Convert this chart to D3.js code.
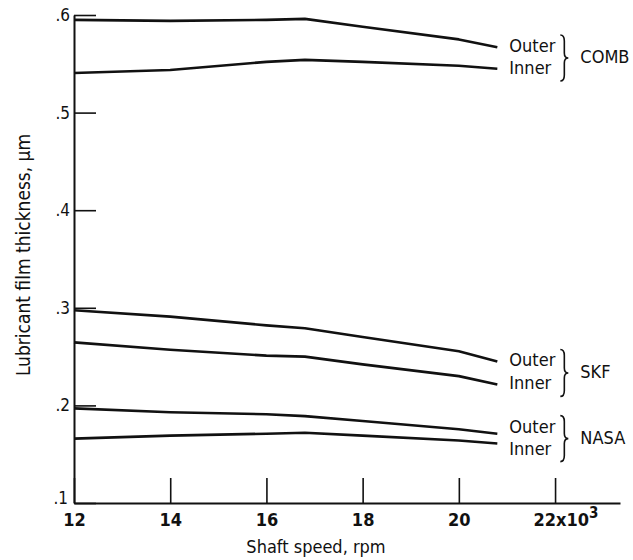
<!DOCTYPE html>
<html>
<head>
<meta charset="utf-8">
<script src="https://cdn.jsdelivr.net/npm/d3@7"></script>
<style>
  body { margin: 0; background: #fff; }
  svg text { font-family: "Liberation Sans Narrow", "DejaVu Sans Condensed", "Liberation Sans", sans-serif; fill: #111; }
</style>
</head>
<body>
<div id="chart"></div>
<script>
// film thickness vs shaft speed, three bearing designs, inner/outer race
const speeds = [12, 14, 16, 16.8, 18, 20, 20.8];          // x10^3 rpm
const combOuter = [0.595, 0.594, 0.595, 0.596, 0.588, 0.575, 0.567];
const combInner = [0.5405, 0.5436, 0.552, 0.554, 0.552, 0.548, 0.545];
const skfOuter  = [0.2975, 0.291, 0.282, 0.279, 0.270, 0.2555, 0.245];
const skfInner  = [0.2646, 0.257, 0.251, 0.250, 0.242, 0.230, 0.2215];
const nasaOuter = [0.197, 0.193, 0.191, 0.189, 0.184, 0.1755, 0.171];
const nasaInner = [0.166, 0.169, 0.171, 0.172, 0.169, 0.164, 0.161];

const groups = ['COMB', 'SKF', 'NASA'];
const raceLabels = ['Outer', 'Inner'];
const xTicks = [12, 14, 16, 18, 20, 22];
const yTicks = [0.1, 0.2, 0.3, 0.4, 0.5, 0.6];

const series = [
  { group: 'COMB', outer: combOuter, inner: combInner },
  { group: 'SKF', outer: skfOuter, inner: skfInner },
  { group: 'NASA', outer: nasaOuter, inner: nasaInner },
];

const width = 633, height = 560;
const svg = d3.select('#chart').append('svg').attr('width', width).attr('height', height);

const x = d3.scaleLinear().domain([12, 23.35]).range([74, 620]);
const y = d3.scaleLinear().domain([0.1, 0.6]).range([503, 15]);

// x axis, ticks pointing up into the plot
const xAxis = svg.append('g').attr('transform', `translate(0,${y(0.1)})`)
  .call(d3.axisBottom(x).tickValues(xTicks).tickSizeInner(-25).tickSizeOuter(0).tickPadding(10)
    .tickFormat(d => d));
xAxis.select('.domain').attr('stroke', '#111').attr('stroke-width', 2);
xAxis.selectAll('.tick line').attr('stroke', '#111').attr('stroke-width', 1.6);
xAxis.selectAll('.tick text').attr('font-size', 18).attr('font-weight', 'bold').attr('fill', '#111');
// last label carries the multiplier: 22x10^3
xAxis.selectAll('.tick text').filter(d => d === 22)
  .text(null).attr('text-anchor', 'start').attr('x', -22)
  .call(t => {
    t.append('tspan').text('22x10');
    t.append('tspan').attr('dy', '-0.55em').attr('font-size', 15).text('3');
  });

// y axis, ticks pointing right into the plot
const yAxis = svg.append('g').attr('transform', `translate(${x(12)},0)`)
  .call(d3.axisLeft(y).tickValues(yTicks).tickSizeInner(-22).tickSizeOuter(0).tickPadding(4)
    .tickFormat(d => '.' + Math.round(d * 10)));
yAxis.select('.domain').attr('stroke', '#111').attr('stroke-width', 2);
yAxis.selectAll('.tick line').attr('stroke', '#111').attr('stroke-width', 1.6);
yAxis.selectAll('.tick text').attr('font-size', 17).attr('fill', '#111');
// bottom label sits a little above the corner, clear of "12"
yAxis.selectAll('.tick text').filter(d => d === 0.1).attr('y', -5).attr('x', -6);

// axis titles
svg.append('text').attr('x', 316).attr('y', 553).attr('text-anchor', 'middle')
  .attr('font-size', 18).text('Shaft speed, rpm');
svg.append('text').attr('transform', `translate(24,${255}) rotate(-90)`)
  .attr('text-anchor', 'middle').attr('dominant-baseline', 'middle')
  .attr('font-size', 19).text('Lubricant film thickness, μm');

const line = vals => d3.line()
  .x((d, i) => x(speeds[i])).y(d => y(d))(vals);

function bracePath(bx, y1, y2, w) {
  const ym = (y1 + y2) / 2;
  return `M${bx},${y1} Q${bx + w},${y1} ${bx + w},${y1 + 6} L${bx + w},${ym - 5}`
    + ` Q${bx + w},${ym} ${bx + 2 * w},${ym} Q${bx + w},${ym} ${bx + w},${ym + 5}`
    + ` L${bx + w},${y2 - 6} Q${bx + w},${y2} ${bx},${y2}`;
}

series.forEach(s => {
  [s.outer, s.inner].forEach(vals => {
    svg.append('path').attr('d', line(vals))
      .attr('fill', 'none').attr('stroke', '#111').attr('stroke-width', 2.6)
      .attr('stroke-linejoin', 'round');
  });
  const last = speeds.length - 1;
  const yo = y(s.outer[last]), yi = y(s.inner[last]);
  const mid = (yo + yi) / 2;
  const half = Math.max((yi - yo) / 2, 11);
  const lx = x(speeds[last]) + 12;
  [mid - half, mid + half].forEach((ly, k) => {
    svg.append('text').attr('x', lx).attr('y', ly).attr('dominant-baseline', 'middle')
      .attr('font-size', 18).text(raceLabels[k]);
  });
  svg.append('path').attr('d', bracePath(lx + 51, mid - half - 12, mid + half + 12, 4))
    .attr('fill', 'none').attr('stroke', '#111').attr('stroke-width', 1.6);
  svg.append('text').attr('x', lx + 71).attr('y', mid).attr('dominant-baseline', 'middle')
    .attr('font-size', 18).text(s.group);
});
</script>
</body>
</html>
